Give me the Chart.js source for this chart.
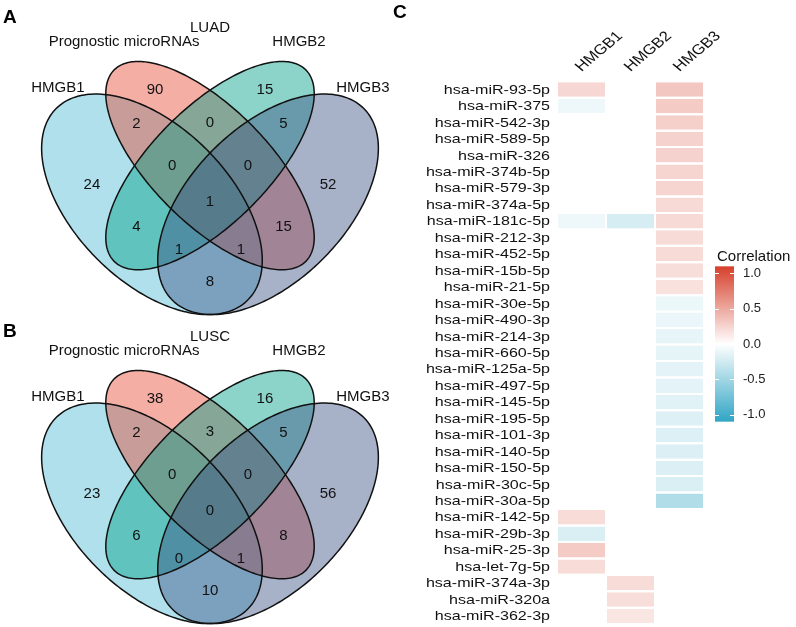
<!DOCTYPE html>
<html>
<head>
<meta charset="utf-8">
<script src="https://cdn.jsdelivr.net/npm/chart.js@4.4.0/dist/chart.umd.min.js"></script>
<style>
body { margin: 0; background: #fff; }
#wrap { position: relative; width: 796px; height: 627px; overflow: hidden; }
canvas { position: absolute; }
</style>
</head>
<body>
<div id="wrap">
  <canvas id="venn-luad" width="420" height="318" style="left:0;top:0"></canvas>
  <canvas id="venn-lusc" width="420" height="318" style="left:0;top:309px"></canvas>
  <canvas id="heat" width="406" height="627" style="left:390px;top:0"></canvas>
</div>
<script>
const FONT = '"Liberation Sans", Arial, Helvetica, sans-serif';
Chart.defaults.font.family = FONT;
Chart.defaults.animation = false;

// ---- Venn data ----
const vennSets = ['HMGB1', 'Prognostic microRNAs', 'HMGB2', 'HMGB3'];
const vennColors = ['#4DBBD5', '#E64B35', '#00A087', '#3C5488'];
// region order: 1, 2, 3, 4, 12, 23, 34, 123, 234, 1234, 13, 24, 134, 124, 14
const regionNames = ['HMGB1', 'Prog', 'HMGB2', 'HMGB3', 'HMGB1-Prog', 'Prog-HMGB2', 'HMGB2-HMGB3',
    'HMGB1-Prog-HMGB2', 'Prog-HMGB2-HMGB3', 'all', 'HMGB1-HMGB2', 'Prog-HMGB3',
    'HMGB1-HMGB2-HMGB3', 'HMGB1-Prog-HMGB3', 'HMGB1-HMGB3'];
const luadCounts = [24, 90, 15, 52, 2, 0, 5, 0, 0, 1, 4, 15, 1, 1, 8];
const luscCounts = [23, 38, 16, 56, 2, 3, 5, 0, 0, 0, 6, 8, 0, 1, 10];

// ---- heatmap data ----
const mirnas = ['hsa-miR-93-5p', 'hsa-miR-375', 'hsa-miR-542-3p', 'hsa-miR-589-5p', 'hsa-miR-326',
    'hsa-miR-374b-5p', 'hsa-miR-579-3p', 'hsa-miR-374a-5p', 'hsa-miR-181c-5p', 'hsa-miR-212-3p',
    'hsa-miR-452-5p', 'hsa-miR-15b-5p', 'hsa-miR-21-5p', 'hsa-miR-30e-5p', 'hsa-miR-490-3p',
    'hsa-miR-214-3p', 'hsa-miR-660-5p', 'hsa-miR-125a-5p', 'hsa-miR-497-5p', 'hsa-miR-145-5p',
    'hsa-miR-195-5p', 'hsa-miR-101-3p', 'hsa-miR-140-5p', 'hsa-miR-150-5p', 'hsa-miR-30c-5p',
    'hsa-miR-30a-5p', 'hsa-miR-142-5p', 'hsa-miR-29b-3p', 'hsa-miR-25-3p', 'hsa-let-7g-5p',
    'hsa-miR-374a-3p', 'hsa-miR-320a', 'hsa-miR-362-3p'];
const genes = ['HMGB1', 'HMGB2', 'HMGB3'];
const hmgb1Cor = [0.23, -0.09, null, null, null, null, null, null, -0.09, null,
    null, null, null, null, null, null, null, null, null, null,
    null, null, null, null, null, null, 0.2, -0.2, 0.3, 0.2,
    null, null, null];
const hmgb2Cor = [null, null, null, null, null, null, null, null, -0.22, null,
    null, null, null, null, null, null, null, null, null, null,
    null, null, null, null, null, null, null, null, null, null,
    0.2, 0.19, 0.15];
const hmgb3Cor = [0.32, 0.3, 0.27, 0.26, 0.26, 0.25, 0.24, 0.22, 0.22, 0.21,
    0.21, 0.19, 0.17, -0.1, -0.11, -0.13, -0.14, -0.15, -0.15, -0.16,
    -0.18, -0.18, -0.19, -0.19, -0.2, -0.42, null, null, null, null,
    null, null, null];
const legendTicks = [1.0, 0.5, 0.0, -0.5, -1.0];
const corLimit = 1.1;

// ---- Venn layout (grid units, VennDiagram style) ----
const ELLIPSES = [
    { cx: 0.35, cy: 0.47, a: 0.35, b: 0.2, rot: -45 },
    { cx: 0.5, cy: 0.57, a: 0.35, b: 0.15, rot: -45 },
    { cx: 0.5, cy: 0.57, a: 0.35, b: 0.15, rot: 45 },
    { cx: 0.65, cy: 0.47, a: 0.35, b: 0.2, rot: 45 }
];
const REGION_POS = [[0.195, 0.519], [0.358, 0.765], [0.642, 0.765], [0.805, 0.519],
    [0.31, 0.677], [0.5, 0.68], [0.69, 0.677], [0.402, 0.569], [0.598, 0.569],
    [0.5, 0.476], [0.31, 0.411], [0.69, 0.411], [0.42, 0.352], [0.58, 0.352], [0.5, 0.269]];
const SET_LABEL_POS = [[0.107, 0.77], [0.278, 0.889], [0.73, 0.889], [0.895, 0.77]];
const TITLE_POS = [0.5, 0.925];
const VENN_ALPHA = 0.45;

function ellipsePath(ctx, chart, e) {
    const xs = chart.scales.x, ys = chart.scales.y;
    const th = e.rot * Math.PI / 180;
    ctx.beginPath();
    for (let k = 0; k <= 240; k++) {
        const t = k / 240 * 2 * Math.PI;
        const ex = e.a * Math.cos(t), ey = e.b * Math.sin(t);
        const gx = e.cx + ex * Math.cos(th) - ey * Math.sin(th);
        const gy = e.cy + ex * Math.sin(th) + ey * Math.cos(th);
        const px = xs.getPixelForValue(gx), py = ys.getPixelForValue(gy);
        if (k) ctx.lineTo(px, py); else ctx.moveTo(px, py);
    }
    ctx.closePath();
}

const vennPlugin = {
    id: 'venn',
    beforeDatasetsDraw(chart) {
        const ctx = chart.ctx;
        ctx.save();
        ELLIPSES.forEach((e, i) => {
            ellipsePath(ctx, chart, e);
            ctx.globalAlpha = VENN_ALPHA;
            ctx.fillStyle = vennColors[i];
            ctx.fill();
        });
        ctx.globalAlpha = 1;
        ctx.strokeStyle = '#111';
        ctx.lineWidth = 1.5;
        ELLIPSES.forEach(e => { ellipsePath(ctx, chart, e); ctx.stroke(); });
        ctx.restore();
    },
    afterDatasetsDraw(chart, args, opts) {
        const ctx = chart.ctx;
        const xs = chart.scales.x, ys = chart.scales.y;
        const ds = chart.data.datasets[0];
        ctx.save();
        ctx.fillStyle = '#111';
        ctx.textAlign = 'center';
        ctx.textBaseline = 'middle';
        ctx.font = '15px ' + FONT;
        chart.getDatasetMeta(0).data.forEach((pt, i) => {
            ctx.fillText(String(ds.data[i].count), pt.x, pt.y);
        });
        vennSets.forEach((s, i) => {
            ctx.fillText(s, xs.getPixelForValue(SET_LABEL_POS[i][0]), ys.getPixelForValue(SET_LABEL_POS[i][1]));
        });
        ctx.fillText(opts.title, xs.getPixelForValue(TITLE_POS[0]), ys.getPixelForValue(TITLE_POS[1]));
        ctx.font = 'bold 19px ' + FONT;
        ctx.textAlign = 'left';
        ctx.fillStyle = '#000';
        ctx.fillText(opts.letter, 3, opts.letterY);
        ctx.restore();
    }
};

function renderVenn(id, counts, title, letter, letterY) {
    new Chart(document.getElementById(id), {
        type: 'scatter',
        data: {
            datasets: [{
                data: REGION_POS.map((p, i) => ({ x: p[0], y: p[1], count: counts[i], region: regionNames[i] })),
                pointRadius: 0
            }]
        },
        options: {
            responsive: false,
            events: [],
            layout: { padding: 0 },
            scales: {
                x: { type: 'linear', min: -0.0426, max: 1.0426, display: false },
                y: { type: 'linear', min: 0.1762, max: 0.998, display: false }
            },
            plugins: {
                legend: { display: false },
                tooltip: { enabled: false },
                venn: { title: title, letter: letter, letterY: letterY }
            }
        },
        plugins: [vennPlugin]
    });
}

// ---- heatmap ----
const RED = [214, 64, 43], BLUE = [48, 165, 196];
function corColor(v) {
    if (v == null) return 'rgba(0,0,0,0)';
    const f = Math.min(1, Math.abs(v) / corLimit);
    const end = v >= 0 ? RED : BLUE;
    const c = end.map(e => Math.round(255 + (e - 255) * f));
    return `rgb(${c[0]},${c[1]},${c[2]})`;
}

const TEXT_SX = 1.19;
const heatPlugin = {
    id: 'heatText',
    afterDraw(chart) {
        const ctx = chart.ctx;
        const xs = chart.scales.x, ys = chart.scales.y;
        const area = chart.chartArea;
        ctx.save();
        ctx.fillStyle = '#111';
        ctx.font = '13.5px ' + FONT;
        ctx.textAlign = 'right';
        ctx.textBaseline = 'middle';
        mirnas.forEach((m, i) => {
            ctx.save();
            ctx.translate(area.left - 7, ys.getPixelForValue(i) + 0.5);
            ctx.scale(TEXT_SX, 1);
            ctx.fillText(m, 0, 0);
            ctx.restore();
        });
        ctx.textAlign = 'left';
        ctx.textBaseline = 'alphabetic';
        ctx.font = '14px ' + FONT;
        genes.forEach((g, i) => {
            ctx.save();
            ctx.translate(xs.getPixelForValue(i + 0.5), 72);
            ctx.scale(TEXT_SX, 1);
            ctx.rotate(-Math.PI / 4);
            ctx.fillText(g, 0, 0);
            ctx.restore();
        });

        // colour bar
        const bx = 325, bw = 19, y0 = 344, perUnit = 70.6;
        const top = y0 - perUnit * corLimit, bottom = y0 + perUnit * corLimit;
        const grad = ctx.createLinearGradient(0, top, 0, bottom);
        for (let k = 0; k <= 20; k++) {
            const v = corLimit - k / 20 * 2 * corLimit;
            grad.addColorStop(k / 20, corColor(v));
        }
        ctx.fillStyle = grad;
        ctx.fillRect(bx, top, bw, bottom - top);
        ctx.strokeStyle = '#fff';
        ctx.lineWidth = 1;
        ctx.font = '13px ' + FONT;
        ctx.fillStyle = '#222';
        ctx.textBaseline = 'middle';
        legendTicks.forEach(t => {
            const y = Math.round(y0 - perUnit * t) + 0.5;
            ctx.beginPath();
            ctx.moveTo(bx, y); ctx.lineTo(bx + 4, y);
            ctx.moveTo(bx + bw - 4, y); ctx.lineTo(bx + bw, y);
            ctx.stroke();
            ctx.fillText(t.toFixed(1), bx + 28, y0 - perUnit * t);
        });
        ctx.font = '15px ' + FONT;
        ctx.textBaseline = 'alphabetic';
        ctx.fillStyle = '#111';
        ctx.fillText('Correlation', 327, 261);

        ctx.font = 'bold 19px ' + FONT;
        ctx.fillStyle = '#000';
        ctx.fillText('C', 3, 18);
        ctx.restore();
    }
};

function renderHeatmap() {
    const cors = [hmgb1Cor, hmgb2Cor, hmgb3Cor];
    new Chart(document.getElementById('heat'), {
        type: 'bar',
        data: {
            labels: mirnas,
            datasets: genes.map((g, i) => ({
                label: g,
                data: cors[i].map(v => v == null ? null : [i, i + 1]),
                backgroundColor: cors[i].map(corColor),
                borderColor: '#fff',
                borderWidth: { left: 1, right: 1, top: 0, bottom: 0 },
                borderSkipped: false,
                grouped: false,
                barPercentage: 0.88,
                categoryPercentage: 1
            }))
        },
        options: {
            indexAxis: 'y',
            responsive: false,
            events: [],
            layout: { padding: { left: 167, right: 92, top: 81.3, bottom: 2.8 } },
            scales: {
                x: { type: 'linear', min: 0, max: 3, display: false },
                y: { type: 'category', display: false, offset: true }
            },
            plugins: { legend: { display: false }, tooltip: { enabled: false } }
        },
        plugins: [heatPlugin]
    });
}

renderVenn('venn-luad', luadCounts, 'LUAD', 'A', 18);
renderVenn('venn-lusc', luscCounts, 'LUSC', 'B', 23);
renderHeatmap();
</script>
</body>
</html>
